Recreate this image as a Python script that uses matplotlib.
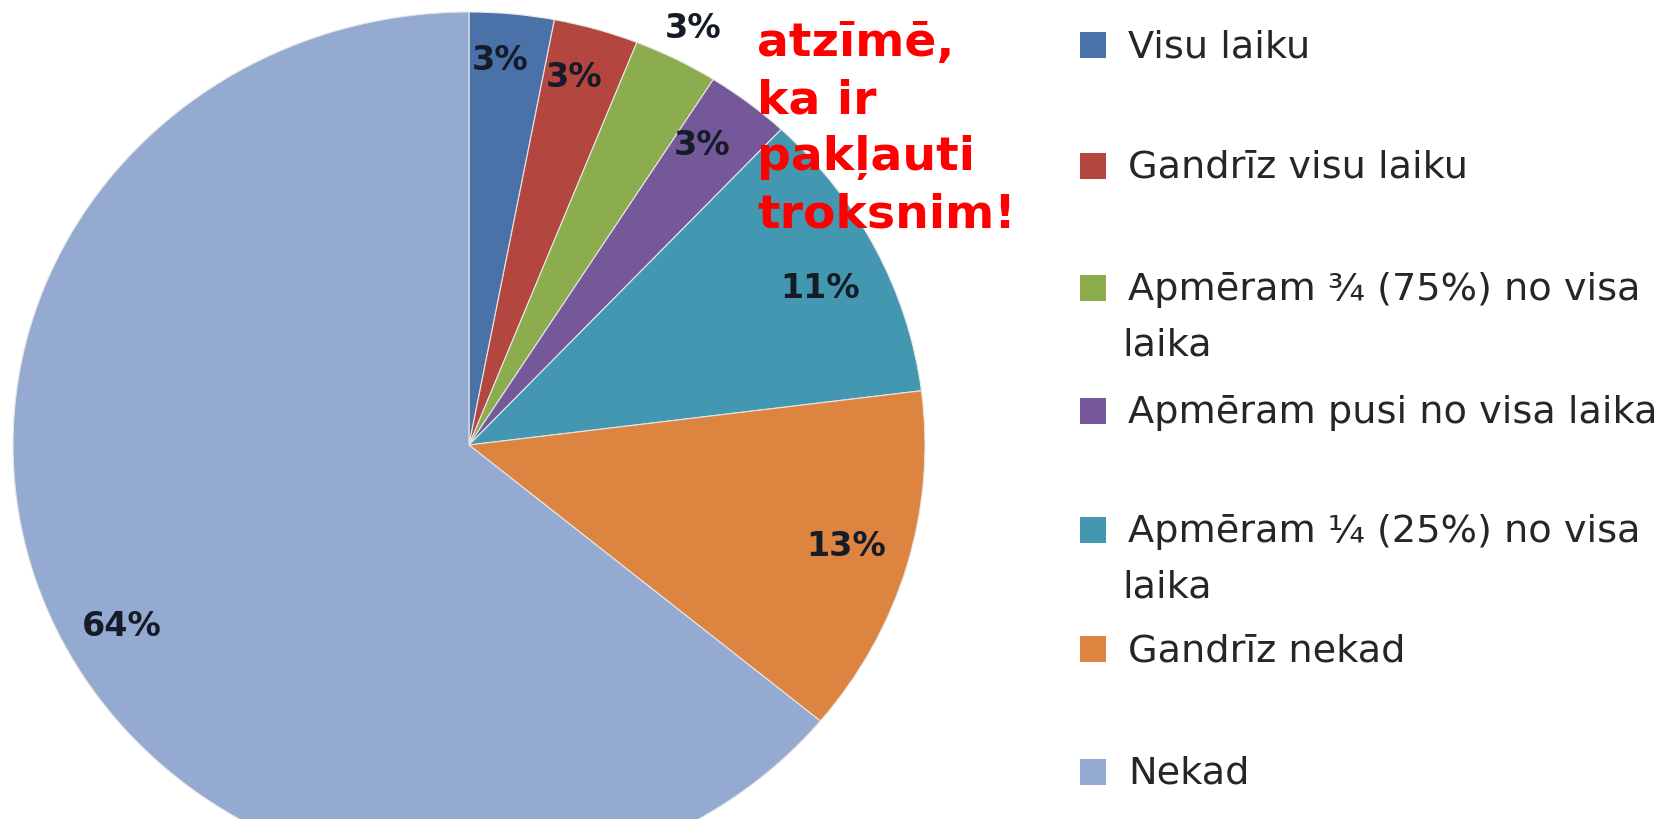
import numpy as np
import matplotlib
matplotlib.use('Agg')
from matplotlib import pyplot as plt
from matplotlib.patches import Rectangle

labels = ['Visu laiku', 'Gandrīz visu laiku', 'Apmēram ¾ (75%) no visa\nlaika',
          'Apmēram pusi no visa laika', 'Apmēram ¼ (25%) no visa\nlaika',
          'Gandrīz nekad', 'Nekad']
values = [3, 3, 3, 3, 11, 13, 64]
colors = ['#4A72A8', '#B3473F', '#8CAD4D', '#74589A', '#4497B0', '#DD8440', '#95AAD1']
label_dist = [0.89, 0.88, 1.08, 0.86, 0.85, 0.86, 0.87]
label_turn = [1.0, 1.0, 0.0, 1.3, -1.9, 0.4, 3.6]   # degrees off the wedge middle
legend_y = [45, 166, 288, 411, 530, 649, 772]   # pixel centres of legend squares
note = ['atzīmē,', 'ka ir', 'pakļauti', 'troksnim!']

W, H = 1663, 819
fig = plt.figure(figsize=(W / 100, H / 100), dpi=100)
ax = fig.add_axes([0, 0, 1, 1])

# pie centre / radii in pixels (the original is a bit stretched sideways)
cx, cy, rx, ry = 469, 445, 456, 433
wedges, _ = ax.pie(values, colors=colors, startangle=90, counterclock=False,
                   wedgeprops=dict(edgecolor='#e6e6e6', linewidth=0.8))
ax.set_aspect('auto')
ax.set_xlim(-cx / rx, (W - cx) / rx)
ax.set_ylim(-(H - cy) / ry, cy / ry)
ax.axis('off')

for w, v, d, t in zip(wedges, values, label_dist, label_turn):
    a = np.deg2rad((w.theta1 + w.theta2) / 2 + t)
    ax.text(d * np.cos(a), d * np.sin(a), '{}%'.format(v), ha='center', va='center',
            fontsize=24, fontweight='bold', color='#161b28')


def px(x, y):
    return x / W, 1 - y / H


# legend drawn by hand so the wrapped entries sit like the original
for c, lab, yc in zip(colors, labels, legend_y):
    fig.patches.append(Rectangle(px(1080, yc + 13), 26 / W, 26 / H,
                                 transform=fig.transFigure, facecolor=c, edgecolor='none'))
    lines = lab.split('\n')
    fig.text(*px(1128, yc + 12), lines[0], fontsize=27.5, color='#262626', va='baseline')
    for k, extra in enumerate(lines[1:], 1):
        fig.text(*px(1122, yc + 12 + 56 * k), extra, fontsize=27.5, color='#262626',
                 va='baseline')

for i, line in enumerate(note):
    fig.text(*px(757, 56 + 57 * i), line, fontsize=34, fontweight='bold', color='#FF0000',
             va='baseline')

fig.savefig('out.png', dpi=100)
